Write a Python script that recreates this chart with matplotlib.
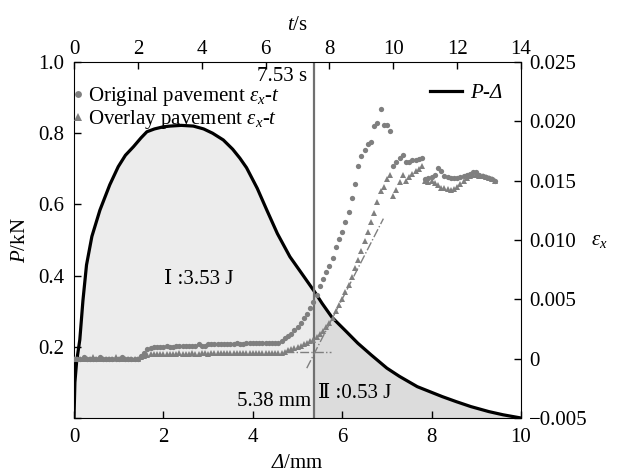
import numpy as np
import matplotlib
matplotlib.use('Agg')
from matplotlib import pyplot as plt

plt.rcParams['font.family'] = ['Liberation Serif', 'DejaVu Serif', 'Noto Sans CJK SC']
# italic math letters incl. capital Greek (Delta), Times-like
plt.rcParams['mathtext.fontset'] = 'custom'
plt.rcParams['mathtext.rm'] = 'Liberation Serif:italic'
plt.rcParams['mathtext.it'] = 'Liberation Serif:italic'
plt.rcParams['font.size'] = 15

# P-Delta curve (bottom / left axes)
delta_mm = [0.0, 0.02, 0.06, 0.13, 0.2, 0.28, 0.4, 0.58, 0.8, 0.99, 1.15, 1.33, 1.5, 1.63,
            1.8, 2.0, 2.15, 2.4, 2.67, 2.9, 3.1, 3.34, 3.55, 3.71, 3.86, 4.1, 4.31, 4.55,
            4.83, 5.1, 5.38, 5.55, 5.77, 6.09, 6.35, 6.65, 7.0, 7.28, 7.68, 8.0, 8.24,
            8.55, 8.88, 9.28, 9.6, 10.0]
load_kN = [0.0, 0.10, 0.16, 0.22, 0.33, 0.43, 0.51, 0.584, 0.655, 0.706, 0.738, 0.762, 0.787, 0.804,
           0.812, 0.818, 0.820, 0.822, 0.820, 0.812, 0.800, 0.781, 0.755, 0.730, 0.703, 0.645, 0.585, 0.518,
           0.453, 0.405, 0.355, 0.322, 0.283, 0.243, 0.210, 0.177, 0.140, 0.117, 0.088, 0.072, 0.060,
           0.046, 0.032, 0.018, 0.009, 0.0]

# strain vs time (top / right axes)
t_s = [0.0, 0.1, 0.2, 0.3, 0.4, 0.5, 0.6, 0.7, 0.8, 0.9,
       1.0, 1.1, 1.2, 1.3, 1.4, 1.5, 1.6, 1.7, 1.8, 1.9,
       2.0, 2.1, 2.2, 2.3, 2.4, 2.5, 2.6, 2.7, 2.8, 2.9,
       3.0, 3.1, 3.2, 3.3, 3.4, 3.5, 3.6, 3.7, 3.8, 3.9,
       4.0, 4.1, 4.2, 4.3, 4.4, 4.5, 4.6, 4.7, 4.8, 4.9,
       5.0, 5.1, 5.2, 5.3, 5.4, 5.5, 5.6, 5.7, 5.8, 5.9,
       6.0, 6.1, 6.2, 6.3, 6.4, 6.5, 6.6, 6.7, 6.8, 6.9,
       7.0, 7.1, 7.2, 7.3, 7.4, 7.5, 7.6, 7.7, 7.8, 7.9,
       8.0, 8.1, 8.2, 8.3, 8.4, 8.5, 8.6, 8.7, 8.8, 8.9,
       9.0, 9.1, 9.2, 9.3, 9.4, 9.5, 9.6, 9.7, 9.8, 9.9,
       10.0, 10.1, 10.2, 10.3, 10.4, 10.5, 10.6, 10.7, 10.8, 10.9,
       11.0, 11.1, 11.2, 11.3, 11.4, 11.5, 11.6, 11.7, 11.8, 11.9,
       12.0, 12.1, 12.2, 12.3, 12.4, 12.5, 12.6, 12.7, 12.8, 12.9,
       13.0, 13.1, 13.2]
orig_eps = [0.0000, 0.0000, 0.0000, 0.0001, 0.0000, 0.0000, 0.0000, 0.0000, 0.0001, 0.0000,
            0.0000, 0.0000, 0.0000, 0.0000, 0.0000, 0.0001, 0.0000, 0.0000, 0.0000, 0.0000,
            0.0000, 0.0002, 0.0005, 0.0008, 0.0009, 0.0010, 0.0010, 0.0010, 0.0010, 0.0011,
            0.0010, 0.0010, 0.0011, 0.0011, 0.0011, 0.0011, 0.0011, 0.0011, 0.0011, 0.0012,
            0.0011, 0.0011, 0.0012, 0.0012, 0.0012, 0.0012, 0.0012, 0.0012, 0.0012, 0.0012,
            0.0012, 0.0013, 0.0012, 0.0012, 0.0013, 0.0013, 0.0013, 0.0013, 0.0013, 0.0013,
            0.0013, 0.0013, 0.0013, 0.0013, 0.0013, 0.0015, 0.0017, 0.0019, 0.0021, 0.0024,
            0.0027, 0.0030, 0.0034, 0.0038, 0.0043, 0.0048, 0.0054, 0.0061, 0.0067, 0.0073,
            0.0078, 0.0085, 0.0094, 0.0101, 0.0107, 0.0115, 0.0124, 0.0135, 0.0147, 0.0162,
            0.0171, 0.0176, 0.0181, 0.0183, 0.0196, 0.0199, 0.0210, 0.0197, 0.0197, 0.0192,
            0.0162, 0.0166, 0.0169, 0.0172, 0.0166, 0.0166, 0.0167, 0.0167, 0.0168, 0.0169,
            0.0151, 0.0152, 0.0153, 0.0155, 0.0161, 0.0158, 0.0154, 0.0153, 0.0152, 0.0152,
            0.0152, 0.0153, 0.0154, 0.0155, 0.0156, 0.0157, 0.0157, 0.0155, 0.0154, 0.0153,
            0.0152, 0.0151, 0.0150]
overlay_eps = [0.0000, 0.0000, 0.0000, 0.0000, 0.0000, 0.0000, 0.0001, 0.0000, 0.0000, 0.0000,
               0.0000, 0.0000, 0.0000, 0.0001, 0.0000, 0.0000, 0.0000, 0.0000, 0.0000, 0.0000,
               0.0000, 0.0001, 0.0002, 0.0003, 0.0004, 0.0004, 0.0004, 0.0004, 0.0004, 0.0004,
               0.0004, 0.0004, 0.0004, 0.0005, 0.0004, 0.0004, 0.0004, 0.0005, 0.0004, 0.0004,
               0.0005, 0.0005, 0.0004, 0.0005, 0.0005, 0.0005, 0.0005, 0.0005, 0.0005, 0.0005,
               0.0005, 0.0005, 0.0005, 0.0005, 0.0005, 0.0005, 0.0005, 0.0005, 0.0005, 0.0005,
               0.0005, 0.0005, 0.0005, 0.0005, 0.0005, 0.0005, 0.0006, 0.0007, 0.0008, 0.0009,
               0.0010, 0.0011, 0.0012, 0.0013, 0.0015, 0.0016, 0.0018, 0.0021, 0.0023, 0.0027,
               0.0030, 0.0034, 0.0040, 0.0045, 0.0050, 0.0056, 0.0062, 0.0069, 0.0076, 0.0083,
               0.0091, 0.0099, 0.0107, 0.0115, 0.0123, 0.0132, 0.0141, 0.0145, 0.0151, 0.0155,
               0.0137, 0.0142, 0.0149, 0.0155, 0.0150, 0.0153, 0.0156, 0.0158, 0.0160, 0.0162,
               0.0150, 0.0149, 0.0150, 0.0148, 0.0146, 0.0144, 0.0144, 0.0143, 0.0142, 0.0143,
               0.0145, 0.0147, 0.0150, 0.0152, 0.0154, 0.0155, 0.0155, 0.0154, 0.0154, 0.0153,
               0.0152, 0.0151, 0.0150]

# dash-dot construction lines (t, eps)
flat_t = [6.6, 8.05]
flat_eps = [0.0006, 0.0006]
slope_t = [7.29, 9.69]
slope_eps = [-0.0008, 0.0118]

delta_split = 5.38
eps_ticks = [-0.005, 0.0, 0.005, 0.010, 0.015, 0.020, 0.025]
eps_labels = ['\u22120.005', '0', '0.005', '0.010', '0.015', '0.020', '0.025']

grey = '#7f7f7f'

fig = plt.figure(figsize=(6.18, 4.73), dpi=100)
rect = [74 / 618, 55 / 473, 447 / 618, 356 / 473]
ax = fig.add_axes(rect)
ax2 = fig.add_axes(rect, label='strain', frameon=False)

delta = np.array(delta_mm)
load = np.array(load_kN)
m1 = delta <= delta_split
m2 = delta >= delta_split
ax.fill_between(delta[m1], load[m1], color='#ececec', lw=0)
ax.fill_between(delta[m2], load[m2], color='#dcdcdc', lw=0)
ax.plot(delta, load, color='black', lw=2.3, label=r'$P$-$\Delta$')
ax.axvline(delta_split, color='#707070', lw=1.6)

ax.set_xlim(0, 10)
ax.set_ylim(0, 1.0)
ax.set_xticks([0, 2, 4, 6, 8, 10])
ax.set_yticks([0, 0.2, 0.4, 0.6, 0.8, 1.0])
ax.set_yticklabels(['', '0.2', '0.4', '0.6', '0.8', '1.0'])
ax.tick_params(direction='in', length=5, width=1, pad=7)
ax.set_xlabel(r'$\Delta$/mm', labelpad=5)
ax.set_ylabel(r'$P$/kN', labelpad=6)

ax2.plot(t_s, orig_eps, 'o', ms=3.8, color=grey, mew=0,
         label=r'Original pavement $\varepsilon_x$-$t$')
ax2.plot(t_s, overlay_eps, '^', ms=4.4, color=grey, mew=0,
         label=r'Overlay pavement $\varepsilon_x$-$t$')
ax2.plot(flat_t, flat_eps, color=grey, lw=1, ls='-.')
ax2.plot(slope_t, slope_eps, color=grey, lw=1, ls='-.')
ax2.set_xlim(0, 14)
ax2.set_ylim(-0.005, 0.025)
ax2.xaxis.set_ticks_position('top')
ax2.xaxis.set_label_position('top')
ax2.yaxis.set_ticks_position('right')
ax2.yaxis.set_label_position('right')
ax2.set_xticks([0, 2, 4, 6, 8, 10, 12, 14])
ax2.set_yticks(eps_ticks)
ax2.set_yticklabels(eps_labels)
ax2.tick_params(direction='in', length=5, width=1, pad=6)
ax2.tick_params(axis='x', pad=2)
ax2.set_xlabel(r'$t$/s', labelpad=7)
ax2.set_ylabel(r'$\varepsilon_x$', rotation=0, labelpad=8, va='center')

ax.text(5.22, 0.958, '7.53 s', ha='right', va='center')
ax.text(5.3, 0.045, '5.38 mm', ha='right', va='center')
ax.text(5.45, 0.07, 'Ⅱ :0.53 J', ha='left', va='center')
ax.text(2.78, 0.39, 'Ⅰ :3.53 J', ha='center', va='center')

ax2.legend(loc='upper left', bbox_to_anchor=(-0.005, 0.935), frameon=False,
           handlelength=0.6, handletextpad=0.2, borderaxespad=0, borderpad=0,
           labelspacing=0.0, markerscale=1.3)
ax.legend(loc='upper right', bbox_to_anchor=(0.96, 0.94), frameon=False,
          handlelength=1.5, handletextpad=0.4, borderaxespad=0, borderpad=0)

fig.savefig('out.png', dpi=100)
